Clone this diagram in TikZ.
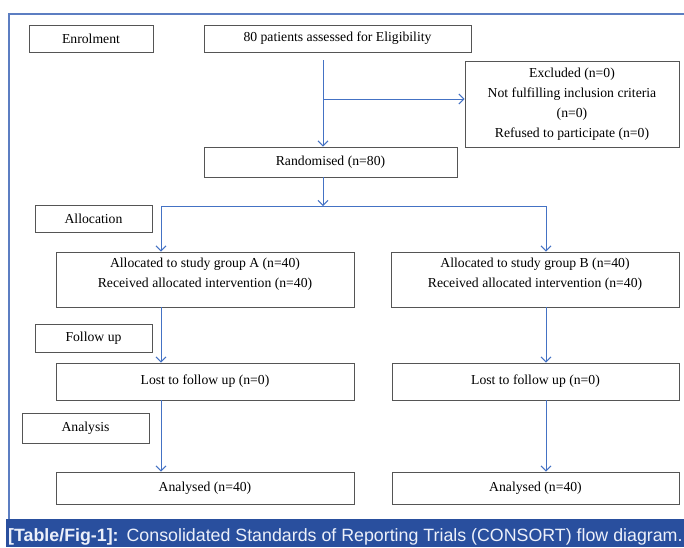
\documentclass[tikz,border=0pt]{standalone}
\usepackage{fontspec}
\setmainfont{Liberation Serif}
\newfontfamily\capfont{Liberation Sans}
\usetikzlibrary{arrows.meta,shadows}
\definecolor{arrblue}{RGB}{68,114,196}
\definecolor{frameblue}{RGB}{92,126,194}
\definecolor{capbg}{RGB}{41,79,158}
\definecolor{captext}{RGB}{236,240,250}
\definecolor{boxline}{RGB}{85,85,85}
\tikzset{
  box/.style={draw=boxline, line width=0.9pt, fill=white, rectangle, inner sep=0pt, align=center,
    font=\fontsize{13.7}{19.8}\selectfont,
    drop shadow={shadow xshift=0.9pt, shadow yshift=-0.9pt, fill=gray, opacity=0.6}},
  arr/.style={draw=arrblue, line width=1pt, -{Straight Barb[length=5pt,width=10pt,line width=1pt]}},
  ln/.style={draw=arrblue, line width=1pt},
}
\begin{document}
\begin{tikzpicture}[x=1pt,y=-1pt]
\useasboundingbox (0,0) rectangle (684,547);
% frame
\draw[frameblue, line width=1.5pt] (9,519) -- (9,14) -- (684,14);
% caption bar
\fill[capbg] (6,519) rectangle (684,547);
\node[anchor=base west, inner sep=0pt, text=captext, font=\capfont\fontsize{17.8}{20}\selectfont] (cap) at (8,541)
  {\textbf{[Table/Fig-1]:}\hspace{8pt}Consolidated Standards of Reporting Trials (CONSORT) flow diagram.};
% boxes
\node[box, minimum width=124pt, minimum height=27pt] (enrol) at (91,38.5) {Enrolment};
\node[box, minimum width=267pt, minimum height=27pt] (elig) at (337.5,38.5) {80 patients assessed for Eligibility};
\node[box, minimum width=214pt, minimum height=86pt] (excl) at (572,104) {Excluded (n=0)\\Not fulfilling inclusion criteria\\(n=0)\\Refused to participate (n=0)};
\node[box, minimum width=253pt, minimum height=30pt] (rand) at (330.5,162) {Randomised (n=80)};
\node[box, minimum width=117pt, minimum height=27pt] (alloc) at (93.5,218.5) {Allocation};
\node[box, minimum width=298pt, minimum height=55pt] (grpA) at (205,279.5) {Allocated to study group A (n=40)\\Received allocated intervention (n=40)\\[-6pt]\mbox{}};
\node[box, minimum width=288pt, minimum height=55pt] (grpB) at (535,279.5) {Allocated to study group B (n=40)\\Received allocated intervention (n=40)\\[-6pt]\mbox{}};
\node[box, minimum width=117pt, minimum height=28pt] (follow) at (93.5,338) {Follow up};
\node[box, minimum width=298pt, minimum height=37pt] (lostA) at (205,381.5) {Lost to follow up (n=0)};
\node[box, minimum width=287pt, minimum height=37pt] (lostB) at (535.5,381.5) {Lost to follow up (n=0)};
\node[box, minimum width=127pt, minimum height=30pt] (analysis) at (85.5,428) {Analysis};
\node[box, minimum width=298pt, minimum height=32pt] (anA) at (205,488) {Analysed (n=40)};
\node[box, minimum width=287pt, minimum height=32pt] (anB) at (535.5,488) {Analysed (n=40)};
% connectors
\coordinate (e0) at (323,60);
\coordinate (e1) at (323,99);
\coordinate (sp) at (323,206);
\coordinate (sa) at (161,206);
\coordinate (sb) at (546,206);
\draw[arr] (e0) -- (e0 |- rand.north);
\draw[arr] (e1) -- (e1 -| excl.west);
\draw[arr] (sp |- rand.south) -- (sp);
\draw[ln] (sa) -- (sb);
\draw[arr] (sa) -- (sa |- grpA.north);
\draw[arr] (sb) -- (sb |- grpB.north);
\draw[arr] (sa |- grpA.south) -- (sa |- lostA.north);
\draw[arr] (sb |- grpB.south) -- (sb |- lostB.north);
\draw[arr] (sa |- lostA.south) -- (sa |- anA.north);
\draw[arr] (sb |- lostB.south) -- (sb |- anB.north);
\end{tikzpicture}
\end{document}
